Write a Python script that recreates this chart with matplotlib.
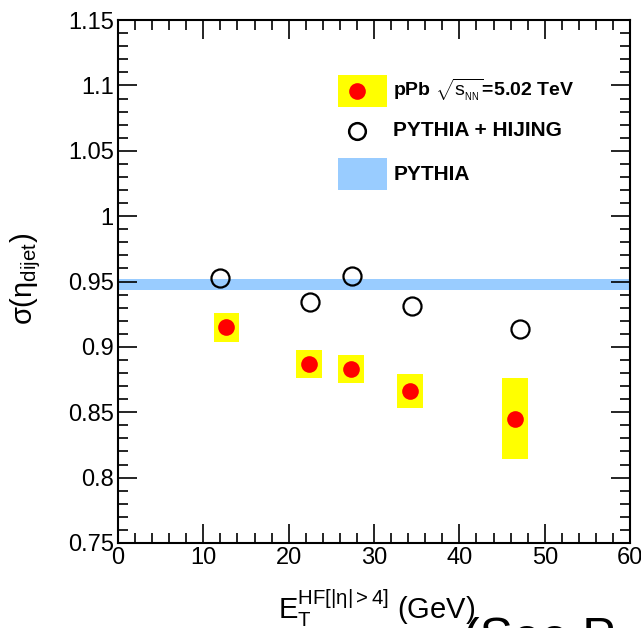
import matplotlib.pyplot as plt
from matplotlib.patches import Rectangle
from matplotlib.ticker import MultipleLocator

plt.rcParams['font.family'] = ['Liberation Sans', 'DejaVu Sans']
plt.rcParams['mathtext.fontset'] = 'custom'
plt.rcParams['mathtext.rm'] = 'Liberation Sans'
plt.rcParams['mathtext.it'] = 'Liberation Sans'
plt.rcParams['mathtext.bf'] = 'Liberation Sans:bold'

# pPb data, sqrt(s_NN) = 5.02 TeV
et_ppb = [12.7, 22.4, 27.3, 34.2, 46.5]
sig_ppb = [0.915, 0.887, 0.883, 0.866, 0.845]
sys_ppb = [0.011, 0.011, 0.011, 0.013, 0.031]
et_halfwidth = 1.5

# PYTHIA + HIJING
et_ph = [12.0, 22.5, 27.4, 34.4, 47.1]
sig_ph = [0.953, 0.934, 0.954, 0.931, 0.914]

# PYTHIA band
pythia_val = 0.9476
pythia_err = 0.0042

fig = plt.figure(figsize=(6.41, 6.28), dpi=100)
ax = fig.add_axes([0.184, 0.1354, 0.799, 0.8326])

ax.axhspan(pythia_val - pythia_err, pythia_val + pythia_err,
           color='#99ccff', lw=0, zorder=1)

for x, y, e in zip(et_ppb, sig_ppb, sys_ppb):
    ax.add_patch(Rectangle((x - et_halfwidth, y - e), 2 * et_halfwidth, 2 * e,
                           facecolor='#ffff00', edgecolor='none', zorder=2))
ax.plot(et_ppb, sig_ppb, 'o', color='red', ms=12, mec='none', zorder=3)
ax.plot(et_ph, sig_ph, 'o', mfc='none', mec='black', ms=13, mew=1.6, zorder=3)

ax.set_xlim(0, 60)
ax.set_ylim(0.75, 1.15)
ax.xaxis.set_major_locator(MultipleLocator(10))
ax.xaxis.set_minor_locator(MultipleLocator(2))
ax.yaxis.set_major_locator(MultipleLocator(0.05))
ax.yaxis.set_minor_locator(MultipleLocator(0.01))
ax.set_yticks([0.75, 0.8, 0.85, 0.9, 0.95, 1.0, 1.05, 1.1, 1.15])
ax.set_yticklabels(['0.75', '0.8', '0.85', '0.9', '0.95', '1', '1.05', '1.1', '1.15'])
ax.tick_params(which='both', direction='in', top=True, right=True,
               labelsize=17, width=1.2)
ax.tick_params(which='major', length=14, pad=3)
ax.tick_params(which='minor', length=7)
for s in ax.spines.values():
    s.set_linewidth(1.5)

ax.set_ylabel(r'$\sigma(\eta_{\mathrm{dijet}})$', fontsize=21)
ax.yaxis.set_label_coords(-0.147, 0.505)
ax.set_xlabel(r'$\mathrm{E}_{\mathrm{T}}^{\mathrm{HF}[|\eta|>4]}$ (GeV)', fontsize=21)
ax.xaxis.set_label_coords(0.505, -0.085)

# legend drawn by hand, ROOT style
tr = ax.transAxes
ax.add_patch(Rectangle((0.43, 0.834), 0.096, 0.061, transform=tr,
                       facecolor='#ffff00', edgecolor='none', clip_on=False))
ax.plot([0.467], [0.864], 'o', color='red', ms=12, mec='none', transform=tr)
ax.text(0.538, 0.866, r'pPb $\sqrt{s_{_{\mathrm{NN}}}}$=5.02 TeV', transform=tr,
        fontsize=14, fontweight='bold', va='center')
ax.plot([0.467], [0.788], 'o', mfc='none', mec='black', ms=12, mew=1.8,
        transform=tr)
ax.text(0.538, 0.788, 'PYTHIA + HIJING', transform=tr,
        fontsize=15, fontweight='bold', va='center')
ax.add_patch(Rectangle((0.43, 0.675), 0.096, 0.061, transform=tr,
                       facecolor='#99ccff', edgecolor='none', clip_on=False))
ax.text(0.538, 0.705, 'PYTHIA', transform=tr,
        fontsize=15, fontweight='bold', va='center')

fig.text(0.722, -0.04, '(See P', fontsize=36, va='baseline')

fig.savefig('out.png', dpi=100)
